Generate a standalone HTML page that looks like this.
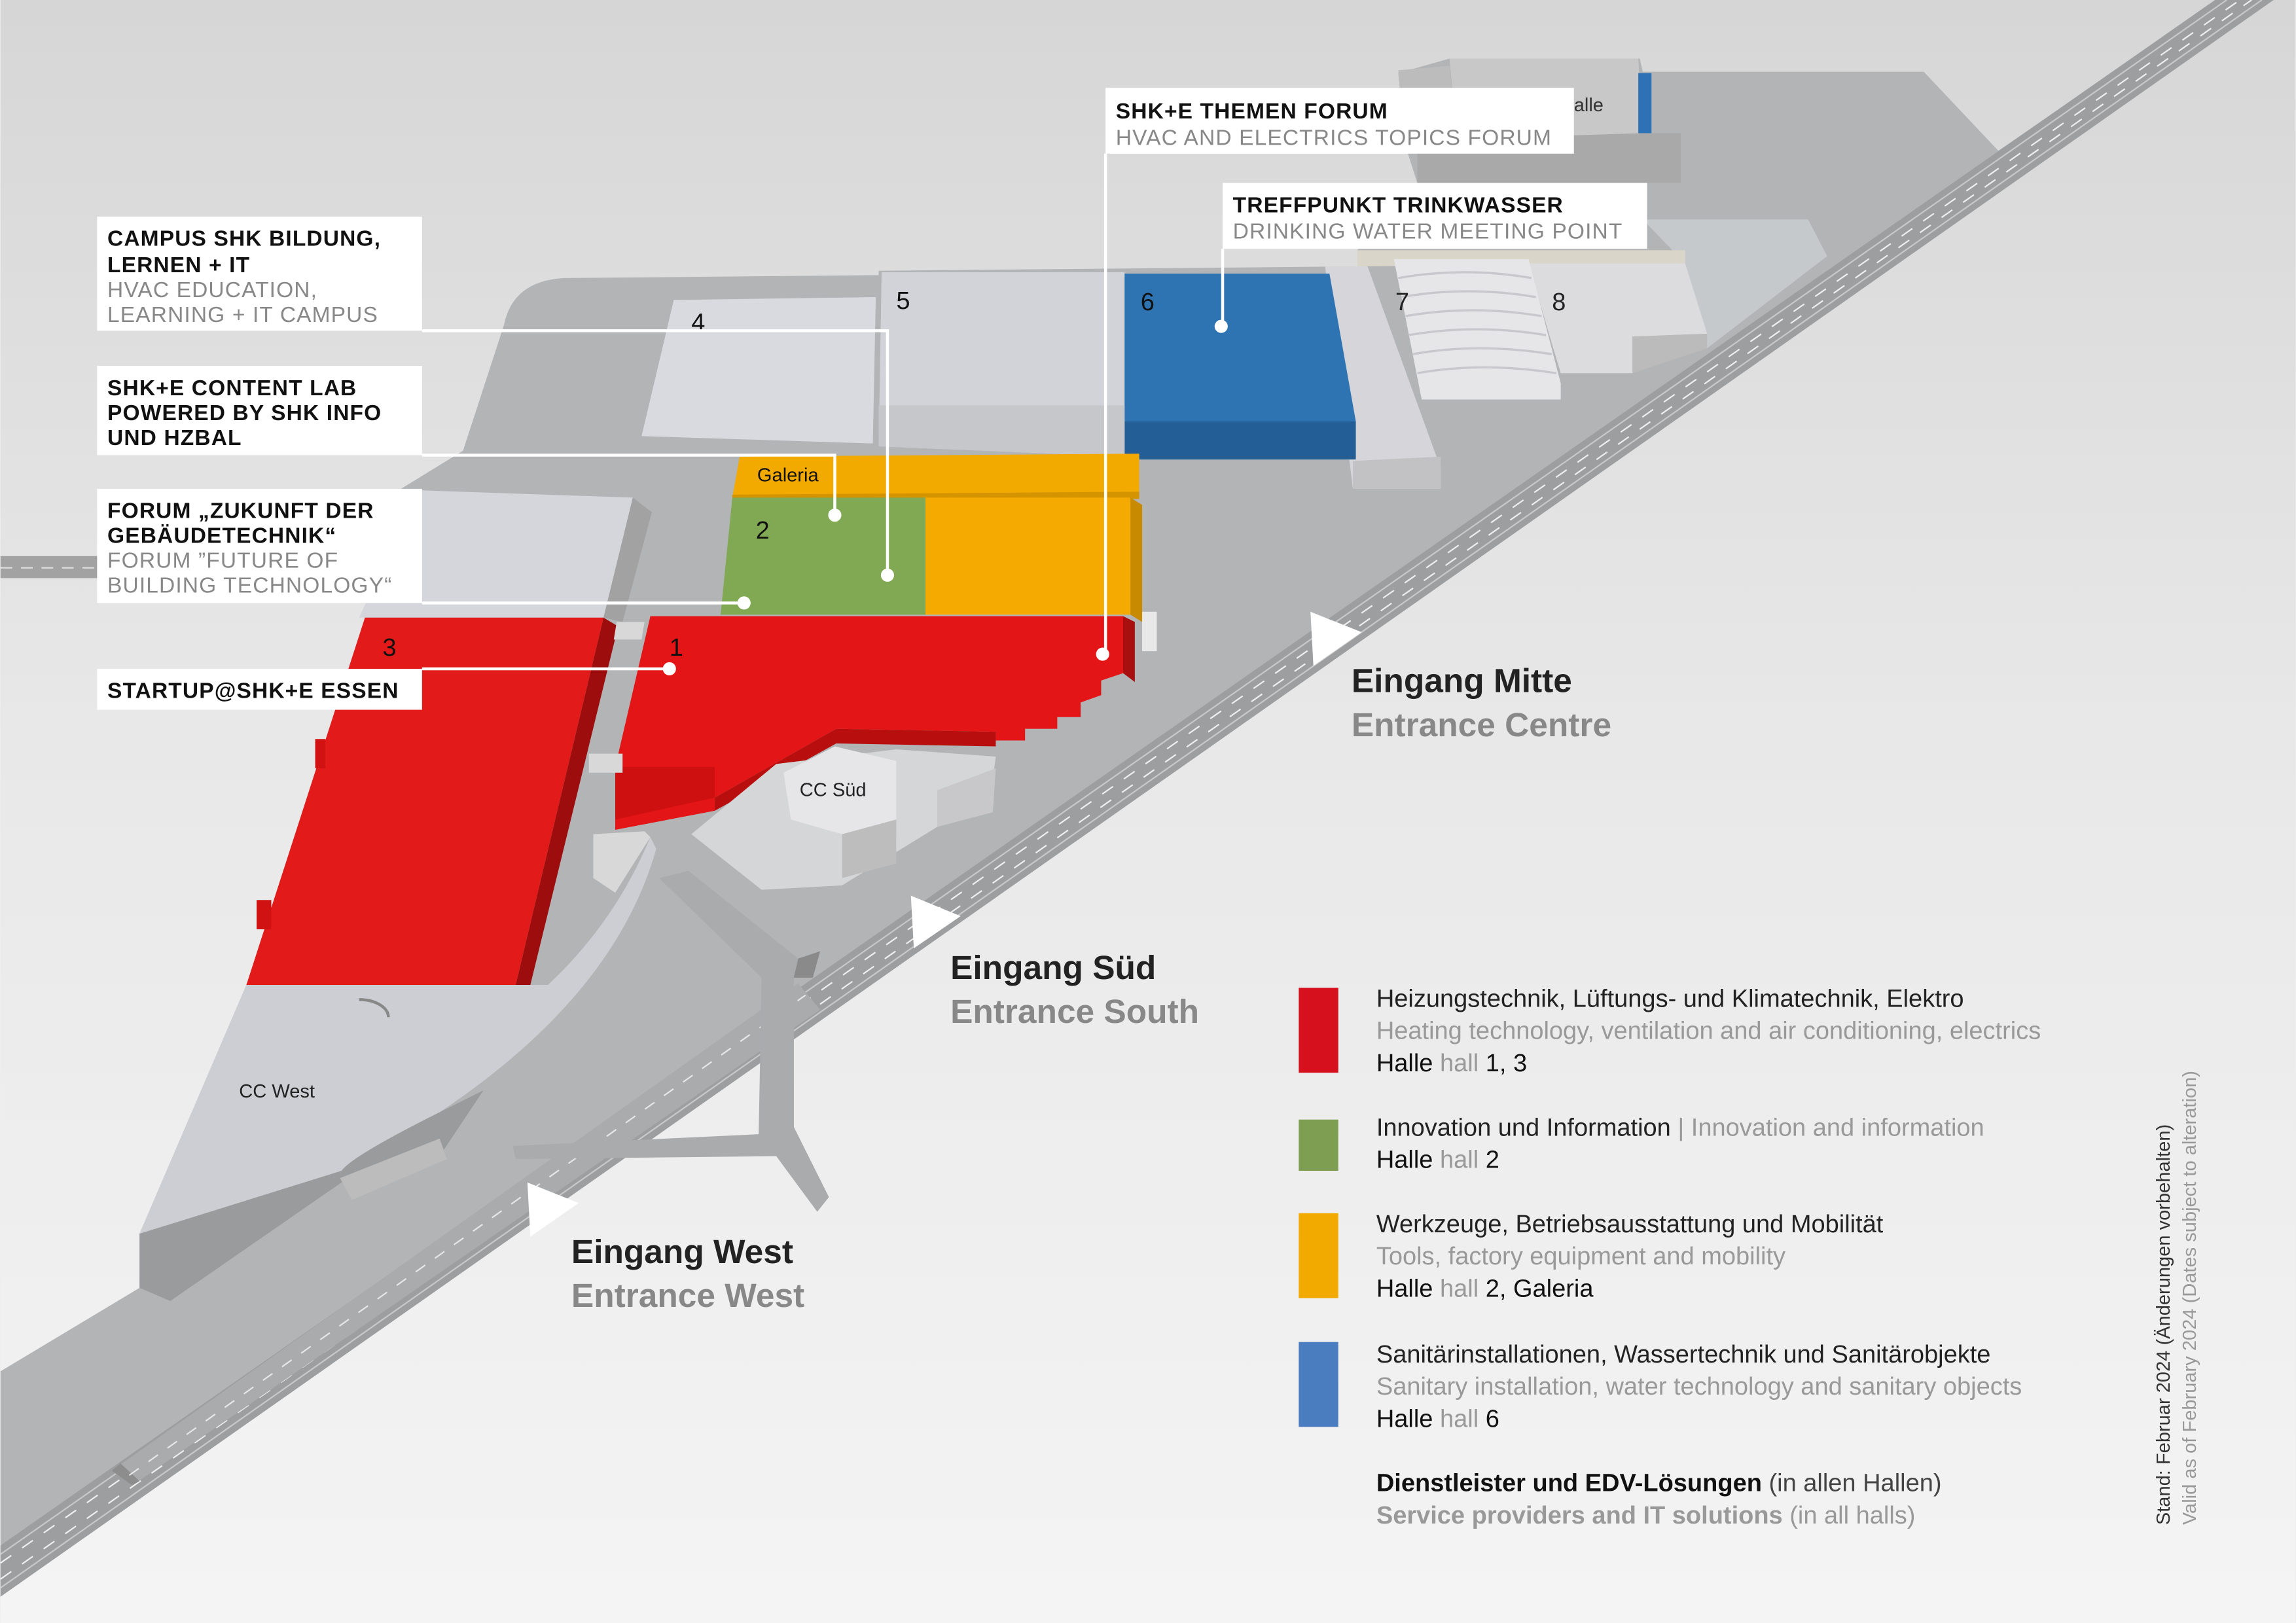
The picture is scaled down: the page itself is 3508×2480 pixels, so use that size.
<!DOCTYPE html>
<html><head><meta charset="utf-8"><style>
html,body{margin:0;padding:0;width:3508px;height:2480px;overflow:hidden;background:#eee}
svg{display:block}
text{font-family:"Liberation Sans",sans-serif}
</style></head><body>
<svg width="3508" height="2480" viewBox="0 0 1568 1109" xmlns="http://www.w3.org/2000/svg">
<defs>
<linearGradient id="bg" x1="0" y1="0" x2="0" y2="1"><stop offset="0" stop-color="#d6d6d6"/><stop offset="0.45" stop-color="#e8e8e8"/><stop offset="1" stop-color="#f4f4f4"/></linearGradient>
</defs>
<rect width="1568" height="1109" fill="url(#bg)"/>
<!-- ground -->
<path d="M0,937 L95,880 L95,843 L168,673 L249,422 L272,335 L316,308 L344,222 Q350,192 385,190 L600,188 L600,185 L930,182 L927,171 L968,125 L960,100 L955,50 L990,40 L1120,40 L1122,49 L1314,49 L1365,103 L1515,0 L1553,0 L0,1091 Z" fill="#b2b4b6"/>
<polygon points="0,380 68,380 68,395 0,395" fill="#a2a2a2"/>
<line x1="0" y1="388" x2="66" y2="388" stroke="#ddd" stroke-width="1" stroke-dasharray="8,6"/>
<!-- main road -->
<polygon points="0,1056 1513,0 1553,0 0,1091" fill="#9c9ea0"/>
<line x1="0" y1="1062" x2="1521" y2="0" stroke="#c8c8c8" stroke-width="1"/>
<line x1="0" y1="1085" x2="1545" y2="0" stroke="#c8c8c8" stroke-width="1"/>
<line x1="0" y1="1068" x2="1530" y2="0" stroke="#eee" stroke-width="1" stroke-dasharray="9,9"/>
<line x1="0" y1="1079" x2="1538" y2="0" stroke="#eee" stroke-width="1" stroke-dasharray="9,9"/>
<!-- secondary road / ramp -->
<polygon points="76,1005 545,672 560,690 90,1015" fill="#a9abad"/>
<polygon points="76,1005 90,1015 95,1012 82,1000" fill="#8d8d8d"/>
<line x1="88" y1="1008" x2="550" y2="680" stroke="#e6e6e6" stroke-width="1" stroke-dasharray="8,8"/>
<!-- junction -->
<polygon points="450,600 470,595 545,655 542,668 542,770 566,818 558,828 530,790 352,792 350,783 518,775 520,668" fill="#a9abad"/>
<polygon points="520,668 542,668 542,770 520,770" fill="#a9abad"/>
<polygon points="545,655 560,650 555,668 542,668" fill="#8a8a8a"/>
<!-- top buildings -->
<polygon points="968,91 1148,91 1148,125 968,125" fill="#a9a9a9"/>
<polygon points="990,40 1119,40 1122,91 995,95" fill="#c8c8c8"/>
<polygon points="955,48 990,45 995,95 960,100" fill="#bcbcbc"/>
<text x="1075" y="76" font-size="13" fill="#333">alle</text>
<polygon points="1119,50 1128,50 1128,91 1119,91" fill="#2e72b5"/>
<!-- hall 8 region -->
<polygon points="1122,150 1235,150 1248,175 1166,238 1151,180" fill="#c6c9cc"/>
<polygon points="927,171 1151,171 1151,180 927,182" fill="#d9d6c9"/>
<polygon points="1044,180 1151,180 1166,228 1115,230 1115,255 1066,255 1060,235" fill="#dcdcdf"/>
<polygon points="1115,230 1166,228 1166,238 1115,255" fill="#bbbbbb"/>
<text x="1060" y="212" font-size="17" fill="#222">8</text>
<!-- hall 7 -->
<polygon points="952,177 1044,177 1066,262 1066,273 971,273" fill="#e6e6e9"/>
<g stroke="#c8c8cc" stroke-width="1.5" fill="none">
<path d="M955,190 Q1000,182 1046,190"/><path d="M957,203 Q1002,195 1049,203"/><path d="M960,216 Q1005,208 1053,216"/><path d="M962,229 Q1008,221 1056,229"/><path d="M965,242 Q1010,234 1060,242"/><path d="M968,255 Q1013,247 1063,255"/>
</g>
<polygon points="905,182 934,182 984,320 984,334 924,334" fill="#d6d6da"/>
<polygon points="924,315 984,312 984,334 924,334" fill="#c2c2c4"/>
<text x="953" y="212" font-size="17" fill="#222">7</text>
<!-- hall 6 -->
<polygon points="767,187 908,187 926,288 767,288" fill="#2f74b2"/>
<polygon points="767,288 926,288 926,314 767,314" fill="#235e96"/>
<text x="779" y="212" font-size="17" fill="#111">6</text>
<!-- hall 5 -->
<polygon points="602,186 768,186 768,312 600,305" fill="#d2d3d8"/>
<polygon points="600,277 768,277 768,312 600,305" fill="#c6c7cb"/>
<text x="612" y="211" font-size="17" fill="#111">5</text>
<!-- hall 4 -->
<polygon points="438,298 460,205 598,203 596,303" fill="#d9dae0"/>
<text x="472" y="226" font-size="17" fill="#111">4</text>
<!-- left gray building -->
<polygon points="285,335 432,340 412,422 245,422" fill="#d5d6db"/>
<polygon points="432,340 445,350 425,425 412,422" fill="#a2a2a2"/>
<!-- galeria -->
<polygon points="505,312 778,310 778,338 500,340" fill="#f2a900"/>
<polygon points="500,338 778,336 778,341 500,342" fill="#d49400"/>
<text x="517" y="329" font-size="13" fill="#111">Galeria</text>
<!-- hall 2 -->
<polygon points="500,340 632,340 632,420 492,420" fill="#81a853"/>
<polygon points="632,340 772,340 772,420 632,420" fill="#f4aa00"/>
<polygon points="772,340 780,345 780,425 772,420" fill="#c88a00"/>
<text x="516" y="368" font-size="17" fill="#111">2</text>
<polygon points="780,418 790,418 790,445 780,445" fill="#e8e8e8"/>
<!-- hall 1 -->
<polygon points="444,421 767,421 767,460 752,465 752,475 738,480 738,490 722,490 722,498 700,498 700,506 680,506 680,500 571,498 488,545 488,554 420,567 420,524" fill="#e31516"/>
<polygon points="420,524 488,524 488,545 420,560" fill="#cf1010"/>
<polygon points="488,545 571,498 680,500 680,510 571,508 488,554" fill="#b80e0e"/>
<polygon points="767,421 775,425 775,466 767,460" fill="#a80f0f"/>
<text x="457" y="448" font-size="17" fill="#111">1</text>
<!-- hall 3 -->
<polygon points="249,422 412,422 352,673 168,673" fill="#e31a1a"/>
<polygon points="412,422 422,428 362,673 352,673" fill="#9e0d0d"/>
<polygon points="215,505 222,505 222,525 215,525" fill="#d01212"/>
<polygon points="175,615 185,615 185,635 175,635" fill="#d01212"/>
<text x="261" y="448" font-size="17" fill="#111">3</text>
<!-- small pieces -->
<polygon points="402,515 425,515 425,528 402,528" fill="#d8d8d8"/>
<polygon points="421,425 440,425 438,437 419,437" fill="#d8d8d8"/>
<!-- CC West -->
<path d="M168,673 L374,673 Q420,630 444,572 L448,580 Q420,680 300,760 L233,800 Q160,830 95,843 Z" fill="#cdced3"/>
<path d="M95,843 L233,800 Q240,790 300,760 L330,745 L300,790 L233,808 L116,889 L95,880 Z" fill="#9a9b9d"/>
<polygon points="405,570 440,568 444,572 420,610 405,600" fill="#d8d8d8"/>
<path d="M245,683 a20,12 0 0 1 20,12" stroke="#888" stroke-width="2" fill="none"/>
<text x="163" y="750" font-size="13" fill="#222">CC West</text>
<polygon points="232,805 300,778 305,792 240,820" fill="#bcbcbc"/>
<!-- CC Süd -->
<polygon points="472,570 530,522 612,512 680,517 675,555 640,565 575,605 520,608" fill="#d5d6d8"/>
<polygon points="535,528 570,510 612,520 612,560 575,570 540,560" fill="#e6e6e8"/>
<polygon points="575,570 612,560 612,590 575,600" fill="#bdbdbd"/>
<polygon points="640,540 680,525 678,555 640,565" fill="#c8c8ca"/>
<text x="546" y="544" font-size="13" fill="#222">CC Süd</text>
<!-- entrance triangles -->
<polygon points="895,418 930,432 897,455" fill="#fff"/>
<polygon points="622,612 656,626 624,648" fill="#fff"/>
<polygon points="360,808 395,822 362,845" fill="#fff"/>
<!-- leader lines -->
<g stroke="#fff" stroke-width="2" fill="none">
<polyline points="288,226 606,226 606,393"/>
<polyline points="288,311 570,311 570,352"/>
<polyline points="288,412 508,412"/>
<polyline points="288,457 457,457"/>
<polyline points="755,105 755,447"/>
<polyline points="835,170 835,223"/>
</g>
<g fill="#fff"><circle cx="606" cy="393" r="4.5"/><circle cx="570" cy="352" r="4.5"/><circle cx="508" cy="412" r="4.5"/><circle cx="457" cy="457" r="4.5"/><circle cx="753" cy="447" r="4.5"/><circle cx="834" cy="223" r="4.5"/></g>
<!-- label boxes -->
<g fill="#fff"><rect x="66" y="148" width="222" height="78"/><rect x="66" y="250" width="222" height="61"/><rect x="66" y="334" width="222" height="78"/><rect x="66" y="457" width="222" height="28"/><rect x="755" y="60" width="320" height="45"/><rect x="835" y="125" width="290" height="45"/></g>
<g font-size="15" letter-spacing="0.5">
<text x="73" y="168" font-weight="bold" fill="#111">CAMPUS SHK BILDUNG,</text>
<text x="73" y="186" font-weight="bold" fill="#111">LERNEN + IT</text>
<text x="73" y="203" fill="#888">HVAC EDUCATION,</text>
<text x="73" y="220" fill="#888">LEARNING + IT CAMPUS</text>
<text x="73" y="270" font-weight="bold" fill="#111">SHK+E CONTENT LAB</text>
<text x="73" y="287" font-weight="bold" fill="#111">POWERED BY SHK INFO</text>
<text x="73" y="304" font-weight="bold" fill="#111">UND HZBAL</text>
<text x="73" y="354" font-weight="bold" fill="#111">FORUM „ZUKUNFT DER</text>
<text x="73" y="371" font-weight="bold" fill="#111">GEBÄUDETECHNIK“</text>
<text x="73" y="388" fill="#888">FORUM ”FUTURE OF</text>
<text x="73" y="405" fill="#888">BUILDING TECHNOLOGY“</text>
<text x="73" y="477" font-weight="bold" fill="#111">STARTUP@SHK+E ESSEN</text>
<text x="762" y="81" font-weight="bold" fill="#111">SHK+E THEMEN FORUM</text>
<text x="762" y="99" fill="#888">HVAC AND ELECTRICS TOPICS FORUM</text>
<text x="842" y="145" font-weight="bold" fill="#111">TREFFPUNKT TRINKWASSER</text>
<text x="842" y="163" fill="#888">DRINKING WATER MEETING POINT</text>
</g>
<!-- entrances -->
<g font-size="23" font-weight="bold">
<text x="923" y="473" fill="#222">Eingang Mitte</text><text x="923" y="503" fill="#888">Entrance Centre</text>
<text x="649" y="669" fill="#222">Eingang Süd</text><text x="649" y="699" fill="#888">Entrance South</text>
<text x="390" y="863" fill="#222">Eingang West</text><text x="390" y="893" fill="#888">Entrance West</text>
</g>
<!-- legend -->
<rect x="887" y="675" width="27" height="58" fill="#d7101e"/>
<rect x="887" y="765" width="27" height="35" fill="#7e9e52"/>
<rect x="887" y="829" width="27" height="58" fill="#f2a900"/>
<rect x="887" y="917" width="27" height="58" fill="#4a7cc0"/>
<g font-size="17">
<text x="940" y="688" fill="#222">Heizungstechnik, Lüftungs- und Klimatechnik, Elektro</text>
<text x="940" y="710" fill="#999">Heating technology, ventilation and air conditioning, electrics</text>
<text x="940" y="732" fill="#111">Halle <tspan fill="#999">hall</tspan> 1, 3</text>
<text x="940" y="776" fill="#222">Innovation und Information <tspan fill="#999">| Innovation and information</tspan></text>
<text x="940" y="798" fill="#111">Halle <tspan fill="#999">hall</tspan> 2</text>
<text x="940" y="842" fill="#222">Werkzeuge, Betriebsausstattung und Mobilität</text>
<text x="940" y="864" fill="#999">Tools, factory equipment and mobility</text>
<text x="940" y="886" fill="#111">Halle <tspan fill="#999">hall</tspan> 2, Galeria</text>
<text x="940" y="931" fill="#222">Sanitärinstallationen, Wassertechnik und Sanitärobjekte</text>
<text x="940" y="953" fill="#999">Sanitary installation, water technology and sanitary objects</text>
<text x="940" y="975" fill="#111">Halle <tspan fill="#999">hall</tspan> 6</text>
<text x="940" y="1019" fill="#111"><tspan font-weight="bold">Dienstleister und EDV-Lösungen</tspan> <tspan fill="#444">(in allen Hallen)</tspan></text>
<text x="940" y="1041" fill="#999"><tspan font-weight="bold">Service providers and IT solutions</tspan> (in all halls)</text>
</g>
<text transform="translate(1482,1042) rotate(-90)" font-size="13" fill="#333">Stand: Februar 2024 (Änderungen vorbehalten)</text>
<text transform="translate(1500,1042) rotate(-90)" font-size="13" fill="#999">Valid as of February 2024 (Dates subject to alteration)</text>
</svg>
</body></html>
